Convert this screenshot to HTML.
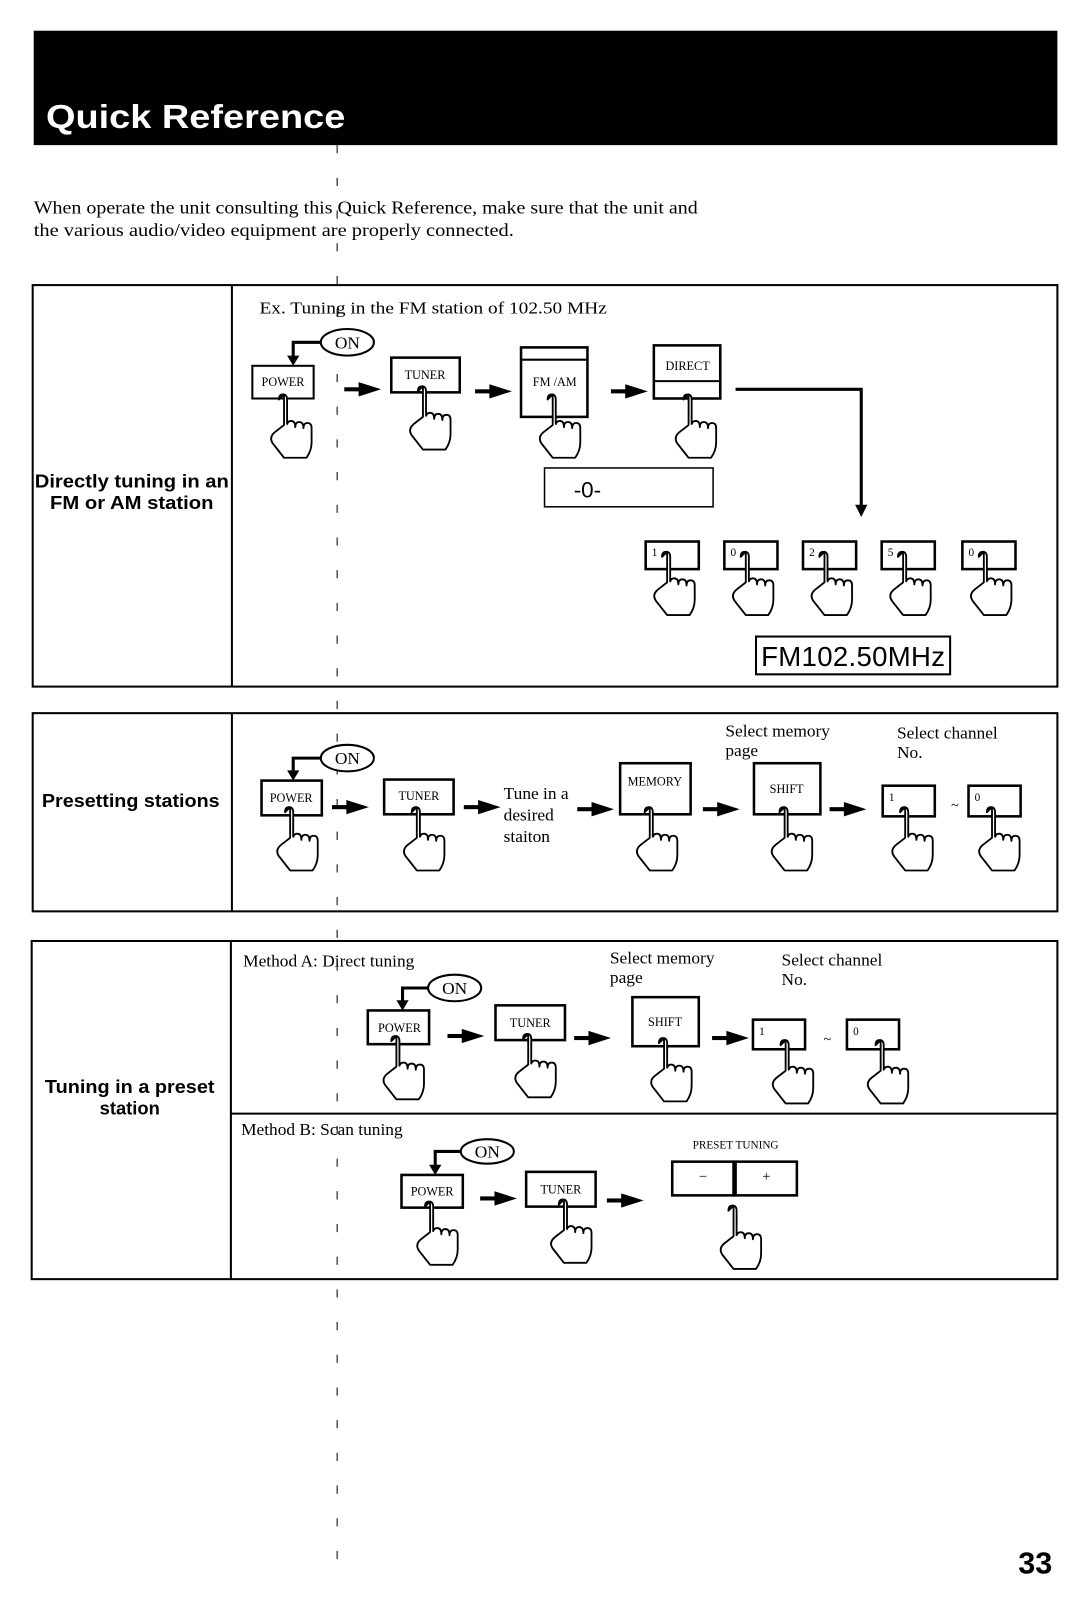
<!DOCTYPE html>
<html><head><meta charset="utf-8">
<style>
html,body{margin:0;padding:0;background:#fff;}
svg{display:block;}
.sr{font-family:"Liberation Serif",serif;}
.ss{font-family:"Liberation Sans",sans-serif;}
</style></head><body>
<svg width="1086" height="1600" viewBox="0 0 1063 1566" xmlns="http://www.w3.org/2000/svg">
<defs>
<g id="hand" fill="#fff" stroke="#000" stroke-width="1.8" stroke-linejoin="round">
<path d="M-4,0 v30 l-9,7 q-6,5 -2,11 l11,14 h22 q5,-7 5,-15 v-14 q0,-5 -4,-5 q-4,0 -4,5 q0,-6 -4,-6 q-4,0 -4,5 q0,-6 -4,-6 q-3,0 -4,3 v-24 q0,-5 -4,-5 q-4,0 -4,5 z"/>
</g>
<g id="arr"><rect x="0" y="-2" width="16" height="4"/><path d="M14,-7 L36,0 L14,7 z"/></g>
</defs>
<rect width="1063" height="1566" fill="#fff"/>
<!-- header -->
<rect x="33" y="30" width="1002" height="112" fill="#000"/>
<text x="45" y="125" class="ss" font-size="33" font-weight="bold" fill="#fff" textLength="293" lengthAdjust="spacingAndGlyphs">Quick Reference</text>
<text x="33" y="209" class="sr" font-size="17.5" textLength="650" lengthAdjust="spacingAndGlyphs">When operate the unit consulting this Quick Reference, make sure that the unit and</text>
<text x="33" y="231" class="sr" font-size="17.5" textLength="470" lengthAdjust="spacingAndGlyphs">the various audio/video equipment are properly connected.</text>
<line x1="330" y1="142" x2="330" y2="1530" stroke="#000" stroke-width="1" stroke-dasharray="8,24"/>

<g fill="none" stroke="#000" stroke-width="2">
<rect x="32" y="279" width="1003" height="393"/>
<line x1="227" y1="279" x2="227" y2="672"/>
<rect x="32" y="698" width="1003" height="194"/>
<line x1="227" y1="698" x2="227" y2="892"/>
<rect x="31" y="921" width="1004" height="331"/>
<line x1="226" y1="921" x2="226" y2="1252"/>
<line x1="226" y1="1090" x2="1035" y2="1090"/>
</g>
<g class="ss" font-size="18" font-weight="bold" text-anchor="middle">
<text x="129" y="477" textLength="190" lengthAdjust="spacingAndGlyphs">Directly tuning in an</text>
<text x="129" y="498" textLength="160" lengthAdjust="spacingAndGlyphs">FM or AM station</text>
<text x="128" y="790" textLength="174" lengthAdjust="spacingAndGlyphs">Presetting stations</text>
<text x="127" y="1070" textLength="166" lengthAdjust="spacingAndGlyphs">Tuning in a preset</text>
<text x="127" y="1091">station</text>
</g>

<!-- Box1 -->
<text x="254" y="307" class="sr" font-size="17" textLength="340" lengthAdjust="spacingAndGlyphs">Ex. Tuning in the FM station of 102.50 MHz</text>
<g stroke="#000" stroke-width="2" fill="#fff">
<ellipse cx="340" cy="335" rx="26" ry="13"/>
<polyline points="314,335 287,335 287,350" fill="none" stroke-width="3"/>
</g>
<path d="M281,348 L293,348 L287,358 z"/>
<g stroke="#000" fill="#fff">
<rect x="247" y="358" width="60" height="32" stroke-width="2"/>
<rect x="383" y="350" width="67" height="34" stroke-width="2.5"/>
<rect x="510" y="340" width="65" height="68" stroke-width="2.5"/>
<line x1="510" y1="352" x2="575" y2="352" stroke-width="2"/>
<rect x="640" y="338" width="65" height="52" stroke-width="2.5"/>
<line x1="640" y1="373" x2="705" y2="373" stroke-width="2"/>
</g>
<g class="sr" font-size="12" text-anchor="middle">
<text x="277" y="378">POWER</text><text x="416" y="371">TUNER</text>
<text x="543" y="378">FM /AM</text><text x="673" y="362">DIRECT</text>
</g>
<g class="sr" font-size="17" text-anchor="middle"><text x="340" y="341">ON</text><text x="340" y="748">ON</text><text x="445" y="973">ON</text><text x="477" y="1133">ON</text></g>
<use href="#hand" x="282" y="386"/><use href="#hand" x="418" y="378"/>
<use href="#hand" x="545" y="386"/><use href="#hand" x="678" y="386"/>
<use href="#arr" x="337" y="381"/><use href="#arr" x="465" y="383"/><use href="#arr" x="598" y="383"/>
<polyline points="720,381 843,381 843,496" fill="none" stroke="#000" stroke-width="3"/>
<path d="M837,494 L849,494 L843,506 z"/>
<rect x="533" y="458" width="165" height="38" fill="none" stroke="#000" stroke-width="1.5"/>
<text x="575" y="487" class="ss" font-size="22" text-anchor="middle">-0-</text>
<g stroke="#000" fill="#fff" stroke-width="2.5">
<rect x="632" y="530" width="52" height="27"/><rect x="709" y="530" width="52" height="27"/>
<rect x="786" y="530" width="52" height="27"/><rect x="863" y="530" width="52" height="27"/>
<rect x="942" y="530" width="52" height="27"/>
</g>
<g class="sr" font-size="11"><text x="638" y="544">1</text><text x="715" y="544">0</text><text x="792" y="544">2</text><text x="869" y="544">5</text><text x="948" y="544">0</text></g>
<use href="#hand" x="657" y="540"/><use href="#hand" x="734" y="540"/><use href="#hand" x="811" y="540"/><use href="#hand" x="888" y="540"/><use href="#hand" x="967" y="540"/>
<rect x="740" y="623" width="190" height="37" fill="none" stroke="#000" stroke-width="2"/>
<text x="835" y="652" class="ss" font-size="27" text-anchor="middle" textLength="180">FM102.50MHz</text>

<!-- Box2 -->
<g class="sr" font-size="17">
<text x="710" y="721">Select memory</text><text x="710" y="740">page</text>
<text x="878" y="723">Select channel</text><text x="878" y="742">No.</text>
<text x="493" y="782">Tune in a</text><text x="493" y="803">desired</text><text x="493" y="824">staiton</text>
</g>
<ellipse cx="340" cy="742" rx="26" ry="13" fill="#fff" stroke="#000" stroke-width="2"/>
<text x="340" y="748" class="sr" font-size="17" text-anchor="middle">ON</text>
<polyline points="314,742 287,742 287,756" fill="none" stroke="#000" stroke-width="3"/>
<path d="M281,754 L293,754 L287,764 z"/>
<g stroke="#000" fill="#fff" stroke-width="2.5">
<rect x="256" y="764" width="59" height="34"/><rect x="376" y="763" width="68" height="34"/>
<rect x="607" y="747" width="69" height="50"/><rect x="738" y="747" width="65" height="50"/>
<rect x="864" y="769" width="51" height="30"/><rect x="948" y="769" width="51" height="30"/>
</g>
<g class="sr" font-size="12" text-anchor="middle">
<text x="285" y="785">POWER</text><text x="410" y="783">TUNER</text>
<text x="641" y="769">MEMORY</text><text x="770" y="776">SHIFT</text>
</g>
<g class="sr" font-size="11"><text x="870" y="784">1</text><text x="954" y="784">0</text></g>
<text x="931" y="793" class="sr" font-size="14">~</text>
<use href="#hand" x="288" y="790"/><use href="#hand" x="412" y="790"/><use href="#hand" x="640" y="790"/>
<use href="#hand" x="772" y="790"/><use href="#hand" x="890" y="790"/><use href="#hand" x="975" y="790"/>
<use href="#arr" x="325" y="790"/><use href="#arr" x="454" y="790"/><use href="#arr" x="565" y="792"/>
<use href="#arr" x="688" y="792"/><use href="#arr" x="812" y="792"/>

<!-- Box3 -->
<g class="sr" font-size="17">
<text x="238" y="946">Method A: Direct tuning</text>
<text x="597" y="943">Select memory</text><text x="597" y="962">page</text>
<text x="765" y="945">Select channel</text><text x="765" y="964">No.</text>
<text x="236" y="1111">Method B: Scan tuning</text>
</g>
<ellipse cx="445" cy="967" rx="26" ry="13" fill="#fff" stroke="#000" stroke-width="2"/>
<text x="445" y="973" class="sr" font-size="17" text-anchor="middle">ON</text>
<polyline points="419,967 394,967 394,980" fill="none" stroke="#000" stroke-width="3"/>
<path d="M388,979 L400,979 L394,989 z"/>
<g stroke="#000" fill="#fff" stroke-width="2.5">
<rect x="360" y="989" width="60" height="33"/><rect x="485" y="984" width="68" height="34"/>
<rect x="619" y="976" width="65" height="48"/>
<rect x="737" y="998" width="51" height="29"/><rect x="829" y="998" width="51" height="29"/>
</g>
<g class="sr" font-size="12" text-anchor="middle">
<text x="391" y="1010">POWER</text><text x="519" y="1005">TUNER</text><text x="651" y="1004">SHIFT</text>
</g>
<g class="sr" font-size="11"><text x="743" y="1013">1</text><text x="835" y="1013">0</text></g>
<text x="806" y="1022" class="sr" font-size="14">~</text>
<use href="#hand" x="392" y="1014"/><use href="#hand" x="521" y="1012"/><use href="#hand" x="654" y="1016"/>
<use href="#hand" x="773" y="1018"/><use href="#hand" x="866" y="1018"/>
<use href="#arr" x="438" y="1014"/><use href="#arr" x="562" y="1016"/><use href="#arr" x="697" y="1016"/>

<ellipse cx="477" cy="1127" rx="26" ry="12" fill="#fff" stroke="#000" stroke-width="2"/>
<text x="477" y="1133" class="sr" font-size="17" text-anchor="middle">ON</text>
<polyline points="451,1127 426,1127 426,1141" fill="none" stroke="#000" stroke-width="3"/>
<path d="M420,1140 L432,1140 L426,1150 z"/>
<g stroke="#000" fill="#fff" stroke-width="2.5">
<rect x="393" y="1150" width="60" height="32"/><rect x="515" y="1147" width="68" height="34"/>
<rect x="658" y="1137" width="60" height="33"/><rect x="720" y="1137" width="60" height="33"/>
</g>
<g class="sr" font-size="12" text-anchor="middle">
<text x="423" y="1170">POWER</text><text x="549" y="1168">TUNER</text>
<text x="720" y="1124" font-size="11">PRESET TUNING</text>
<text x="688" y="1156" font-size="14">−</text><text x="750" y="1156" font-size="14">+</text>
</g>
<use href="#hand" x="425" y="1176"/><use href="#hand" x="556" y="1174"/><use href="#hand" x="722" y="1180"/>
<use href="#arr" x="470" y="1173"/><use href="#arr" x="594" y="1175"/>

<text x="1030" y="1540" class="ss" font-size="30" font-weight="bold" text-anchor="end">33</text>
</svg>
</body></html>
